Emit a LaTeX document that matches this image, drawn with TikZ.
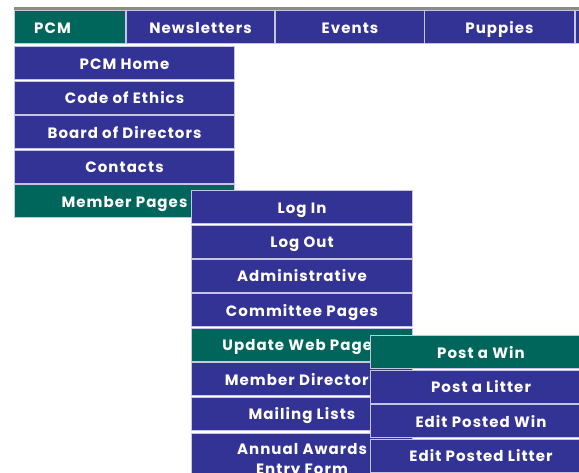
\documentclass[tikz,border=0pt]{standalone}
\usepackage{fontspec}
\setmainfont{Poppins}
\newfontfamily\menufont[LetterSpace=7]{Poppins}
\definecolor{navy}{RGB}{51,51,150}
\definecolor{tealsel}{RGB}{0,102,92}
\definecolor{edge}{RGB}{196,196,228}
\definecolor{topline}{RGB}{140,140,128}
\begin{document}
\begin{tikzpicture}[x=1pt,y=-1pt]
\tikzset{
  cell/.style={anchor=north west, fill=navy, draw=edge, line width=1pt, inner sep=0pt,
    minimum height=33pt, text=white, font=\menufont\bfseries\fontsize{15}{20}\selectfont,
    align=center, text height=12pt, text depth=0pt},
  sel/.style={cell, fill=tealsel},
  bar/.style={cell, minimum height=33pt},
  m1/.style={minimum width=220pt},
  m2/.style={minimum width=221pt},
}
\useasboundingbox (0,0) rectangle (579,472);
\fill[white] (0,0) rectangle (579,472);
\clip (0,0) rectangle (579,472);
% top grey line
\fill[topline] (14,7) rectangle (579,10);
% top bar
\node[sel, minimum width=111pt] (pcm) at (14,10) {PCM\hspace*{35pt}};
\node[bar, minimum width=148pt] (news) at (126,10) {Newsletters};
\node[bar, minimum width=149pt] (events) at (275,10) {Events};
\node[bar, minimum width=150pt] (puppies) at (424,10) {Puppies};
\node[bar, minimum width=20pt] (more) at (575,10) {};
% menu 1
\node[cell, m1] (home) at (14,46) {PCM Home};
\node[cell, m1] (ethics) at (14,80.5) {Code of Ethics};
\node[cell, m1] (board) at (14,115) {Board of Directors};
\node[cell, m1] (contacts) at (14,149.5) {Contacts};
\node[sel, m1] (member) at (14,184) {Member Pages};
% menu 2
\node[cell, m2] (login) at (191,190) {Log In};
\node[cell, m2] (logout) at (191,224.5) {Log Out};
\node[cell, m2] (admin) at (191,258.5) {Administrative};
\node[cell, m2] (committee) at (191,293) {Committee Pages};
\node[sel, m2] (update) at (191,327.5) {Update Web Pages};
\node[cell, m2] (directory) at (191,362) {Member Directory};
\node[cell, m2] (mailing) at (191,396.5) {Mailing Lists};
\node[cell, m2, minimum height=50pt, text height=32pt, text depth=0pt] (awards) at (191,433) {Annual Awards\\Entry Form};
% menu 3
\node[sel, m2] (win) at (370,335) {Post a Win};
\node[cell, m2] (litter) at (370,369.5) {Post a Litter};
\node[cell, m2] (editwin) at (370,404) {Edit Posted Win};
\node[cell, m2] (editlitter) at (370,438.5) {Edit Posted Litter};
\end{tikzpicture}
\end{document}
